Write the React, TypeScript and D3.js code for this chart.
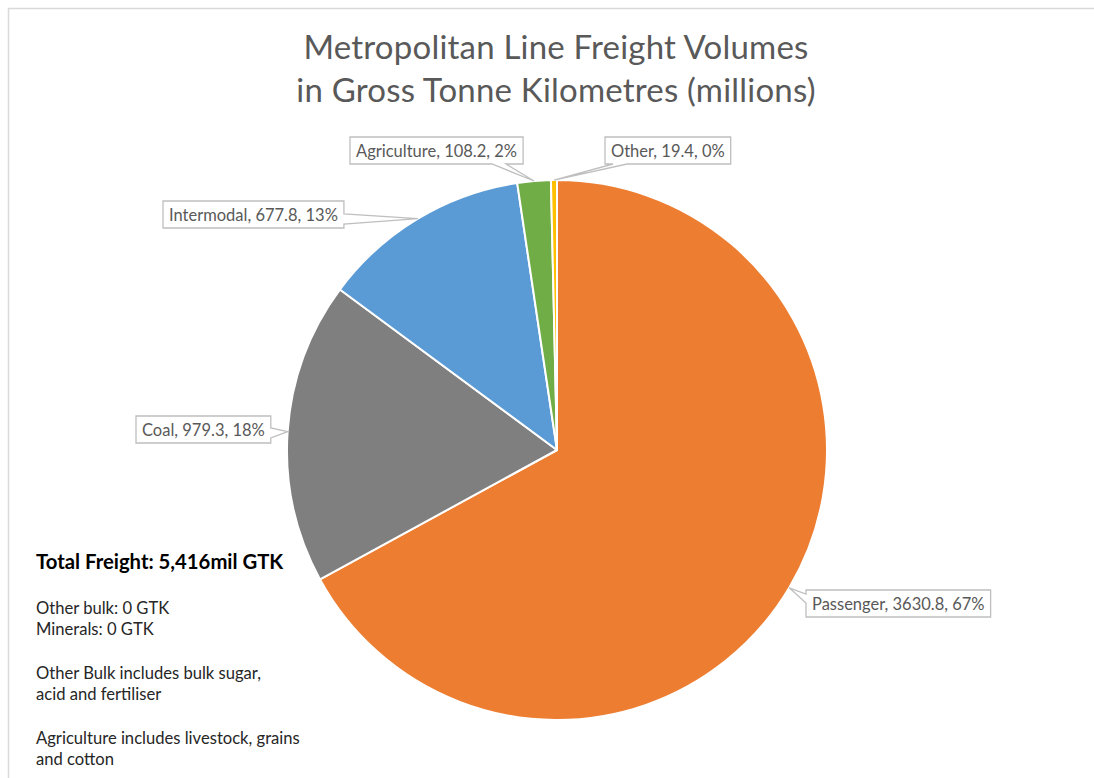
import React, { useEffect, useRef } from 'react';
import * as d3 from 'd3';

const categories = ['Passenger', 'Coal', 'Intermodal', 'Agriculture', 'Other'];
const values = [3630.8, 979.3, 677.8, 108.2, 19.4];
const colors = ['#ED7D31', '#7F7F7F', '#5B9BD5', '#70AD47', '#FFC000'];
const titleLines = ['Metropolitan Line Freight Volumes', 'in Gross Tonne Kilometres (millions)'];
const noteTitle = 'Total Freight: 5,416mil GTK';
const noteLines = [
  'Other bulk: 0 GTK',
  'Minerals: 0 GTK',
  '',
  'Other Bulk includes bulk sugar,',
  'acid and fertiliser',
  '',
  'Agriculture includes livestock, grains',
  'and cotton',
];

// label callout layout (box left/top, side the pointer leaves from, pointer base offsets)
const labelLayout: Record<string, { left: number; top: number; side: string; b1: number; b2: number }> = {
  Passenger: { left: 806, top: 590, side: 'left', b1: 4, b2: 13 },
  Coal: { left: 136, top: 416, side: 'right', b1: 12, b2: 22 },
  Intermodal: { left: 163, top: 201, side: 'right', b1: 13, b2: 23 },
  Agriculture: { left: 350, top: 137, side: 'bottom', b1: 142, b2: 156 },
  Other: { left: 605, top: 137, side: 'bottom', b1: 8, b2: 22 },
};

const FONT = 'Lato, "Open Sans", sans-serif';

export default function App() {
  const ref = useRef<SVGSVGElement>(null);

  useEffect(() => {
    const svg = d3.select(ref.current);
    svg.selectAll('*').remove();

    svg.append('rect')
      .attr('x', 8.5).attr('y', 8.5).attr('width', 1200).attr('height', 900)
      .attr('fill', '#fff').attr('stroke', '#d9d9d9').attr('stroke-width', 1.5);

    // title
    svg.append('text')
      .attr('text-anchor', 'middle')
      .attr('font-family', FONT).attr('font-size', 33).attr('fill', '#595959')
      .attr('letter-spacing', 0.2)
      .selectAll('tspan').data(titleLines).join('tspan')
      .attr('x', 556).attr('y', (_, i) => 59 + i * 43)
      .text(d => d);

    const cx = 557, cy = 450, R = 270;
    const data = categories.map((c, i) => ({ c, v: values[i], col: colors[i] }));
    const total = d3.sum(values);
    const pie = d3.pie<any>().sort(null).value(d => d.v);
    const arcs = pie(data);
    const arc = d3.arc<any>().innerRadius(0).outerRadius(R);

    const g = svg.append('g').attr('transform', `translate(${cx},${cy})`);
    g.selectAll('path').data(arcs).join('path')
      .attr('d', arc as any)
      .attr('fill', d => d.data.col)
      .attr('stroke', '#fff').attr('stroke-width', 2).attr('stroke-linejoin', 'round');

    const fmtPct = d3.format('.0%');
    const fmtVal = d3.format('.1f');
    const lg = svg.append('g');
    arcs.forEach(a => {
      const lay = labelLayout[a.data.c];
      const mid = (a.startAngle + a.endAngle) / 2;
      const tx = cx + R * Math.sin(mid);
      const ty = cy - R * Math.cos(mid);
      const label = `${a.data.c}, ${fmtVal(a.data.v)}, ${fmtPct(a.data.v / total)}`;
      const grp = lg.append('g');
      const path = grp.append('path');
      const t = grp.append('text')
        .attr('font-family', FONT).attr('font-size', 16.5).attr('fill', '#595959')
        .attr('x', lay.left + 6).attr('y', lay.top + 19.5)
        .text(label);
      const w = (t.node() as SVGTextElement).getComputedTextLength() + 12;
      const x0 = lay.left, y0 = lay.top, x1 = lay.left + w, y1 = lay.top + 27;
      let d = '';
      if (lay.side === 'right') {
        d = `M${x0},${y0}H${x1}V${y0 + lay.b1}L${tx},${ty}L${x1},${y0 + lay.b2}V${y1}H${x0}Z`;
      } else if (lay.side === 'left') {
        d = `M${x0},${y0}H${x1}V${y1}H${x0}V${y0 + lay.b2}L${tx},${ty}L${x0},${y0 + lay.b1}Z`;
      } else {
        d = `M${x0},${y0}H${x1}V${y1}H${x0 + lay.b2}L${tx},${ty}L${x0 + lay.b1},${y1}H${x0}Z`;
      }
      path.attr('d', d).attr('fill', '#fff').attr('stroke', '#bfbfbf').attr('stroke-width', 1.3);
    });

    // notes
    svg.append('text')
      .attr('x', 36).attr('y', 569)
      .attr('font-family', FONT).attr('font-size', 20.3).attr('font-weight', 'bold').attr('fill', '#000')
      .text(noteTitle);
    const lineY = [614, 635, 656, 679, 700, 722, 744, 765];
    svg.append('text')
      .attr('font-family', FONT).attr('font-size', 16.6).attr('fill', '#262626')
      .selectAll('tspan').data(noteLines).join('tspan')
      .attr('x', 36).attr('y', (_, i) => lineY[i])
      .text(d => d);
  }, []);

  return (
    <svg ref={ref} width={1094} height={778}
      style={{ position: 'absolute', left: 0, top: 0, display: 'block', background: '#fff' }} />
  );
}
